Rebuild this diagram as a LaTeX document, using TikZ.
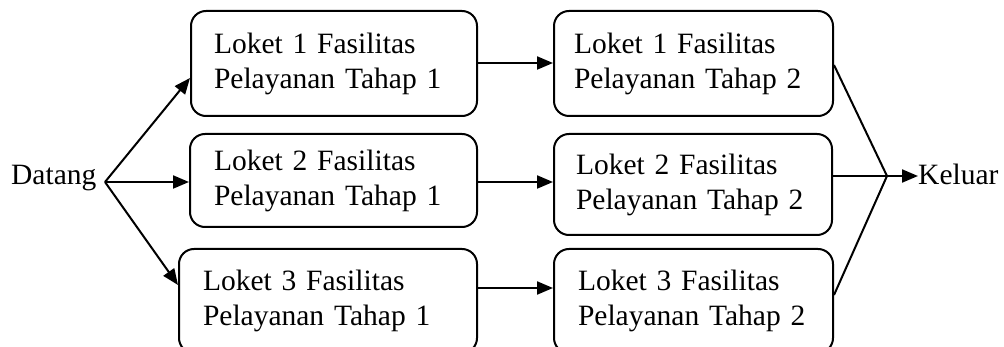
\documentclass[tikz,border=0pt]{standalone}
\usepackage{fontspec}
\setmainfont{Liberation Serif}
\usetikzlibrary{arrows.meta}
\begin{document}
\begin{tikzpicture}[x=1pt,y=-1pt,
  every node/.style={font=\fontsize{29.5}{35}\selectfont},
  stagebox/.style={draw, rounded corners=15pt, line width=2pt,
    inner ysep=0pt, align=left, anchor=north west},
  flow/.style={line width=2pt, -{Triangle[length=16pt,width=13pt]}},
  mergeline/.style={line width=2pt}]
\useasboundingbox (0,0) rectangle (1004,347);

% service counters, stage 1 and stage 2
\node[stagebox, text width=240pt, inner xsep=23pt, minimum height=105pt] (a1) at (190,10)
  {Loket 1 Fasilitas\\Pelayanan Tahap 1};
\node[stagebox, text width=239pt, inner xsep=20pt, minimum height=105pt] (b1) at (553,10)
  {Loket 1 Fasilitas\\Pelayanan Tahap 2};
\node[stagebox, text width=239pt, inner xsep=24pt, minimum height=93pt] (a2) at (189,133)
  {Loket 2 Fasilitas\\Pelayanan Tahap 1};
\node[stagebox, text width=234pt, inner xsep=22pt, minimum height=101pt] (b2) at (553,133)
  {Loket 2 Fasilitas\\Pelayanan Tahap 2};
\node[stagebox, text width=250pt, inner xsep=24pt, minimum height=104pt] (a3) at (178,248)
  {Loket 3 Fasilitas\\Pelayanan Tahap 1};
\node[stagebox, text width=231pt, inner xsep=24pt, minimum height=104pt] (b3) at (553,248)
  {Loket 3 Fasilitas\\Pelayanan Tahap 2};

% arrival and departure
\node[anchor=base west, inner sep=0pt] (in) at (11,185) {Datang};
\node[anchor=base west, inner sep=0pt] (out) at (918,185) {Keluar};
\coordinate (fan) at (105,182);
\coordinate (merge) at (887,176);

% arrivals split over the three counters
\draw[flow] (fan) -- (a1.west |- 0,78);
\draw[flow] (fan) -- (a2.west |- fan);
\draw[flow] (fan) -- (a3.west |- 0,285);

% stage 1 to stage 2
\draw[flow] (a1.east |- 0,63) -- (b1.west |- 0,63);
\draw[flow] (a2.east |- 0,182) -- (b2.west |- 0,182);
\draw[flow] (a3.east |- 0,288) -- (b3.west |- 0,288);

% counters merge into the exit
\draw[mergeline] (b1.east |- 0,65) -- (merge);
\draw[mergeline] (b2.east |- merge) -- (merge);
\draw[mergeline] (b3.east |- 0,295) -- (merge);
\draw[flow] (merge) -- (out.west |- merge);
\end{tikzpicture}
\end{document}
